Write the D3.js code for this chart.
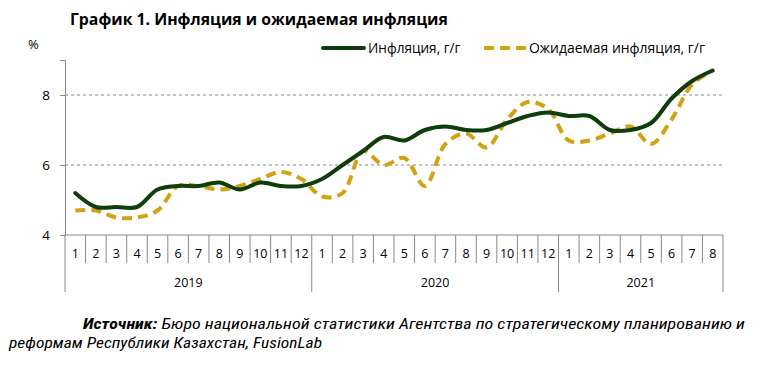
<!DOCTYPE html>
<html>
<head>
<meta charset="utf-8">
<script src="https://cdn.jsdelivr.net/npm/d3@7"></script>
<style>
  body { margin: 0; background: #fff; }
  svg { font-family: "Open Sans", "Noto Sans", sans-serif; }
</style>
</head>
<body>
<svg width="765" height="365"></svg>
<script>
// months per year group
let years = ["2019", "2020", "2021"];
let monthsPerYear = [12, 12, 8];
let inflation = [5.2, 4.8, 4.8, 4.8, 5.3, 5.4, 5.4, 5.5, 5.3, 5.5, 5.4, 5.4,
                 5.6, 6.0, 6.4, 6.8, 6.7, 7.0, 7.1, 7.0, 7.0, 7.2, 7.4, 7.5,
                 7.4, 7.4, 7.0, 7.0, 7.2, 7.9, 8.4, 8.7];
let expected = [4.7, 4.7, 4.5, 4.5, 4.7, 5.4, 5.4, 5.3, 5.4, 5.6, 5.8, 5.6,
                5.1, 5.2, 6.4, 6.0, 6.2, 5.4, 6.6, 6.9, 6.5, 7.3, 7.8, 7.6,
                6.7, 6.7, 6.9, 7.1, 6.6, 7.3, 8.3, 8.7];
let yTicks = [4, 6, 8];

let svg = d3.select("svg"),
    margin = {top: 60, right: 42, bottom: 130, left: 65},
    width = +svg.attr("width") - margin.left - margin.right,
    height = +svg.attr("height") - margin.top - margin.bottom;

let data = [];
years.forEach(function(yr, yi) {
  for (let m = 1; m <= monthsPerYear[yi]; m++) {
    data.push({key: yr + "-" + m, month: m, year: yr});
  }
});
data.forEach(function(d, i) {
  d.inf = inflation[i];
  d.exp = expected[i];
});

let g = svg.append("g")
  .attr("transform", "translate(" + margin.left + "," + margin.top + ")");

let x = d3.scaleBand()
  .domain(data.map(function(d) { return d.key; }))
  .range([0, width]);
let y = d3.scaleLinear()
  .domain([4, 9])
  .range([height, 0]);

// title
svg.append("text")
  .attr("x", 70).attr("y", 25)
  .style("font-size", "15.8px").style("font-weight", "bold")
  .text("График 1. Инфляция и ожидаемая инфляция");

svg.append("text")
  .attr("x", 28).attr("y", 49)
  .style("font-size", "13px")
  .text("%");

// gridlines
g.append("g")
  .selectAll("line")
  .data(yTicks.filter(function(t) { return t > 4; }))
  .enter().append("line")
    .attr("x1", 0).attr("x2", width)
    .attr("y1", function(d) { return y(d); })
    .attr("y2", function(d) { return y(d); })
    .attr("stroke", "#888").attr("stroke-dasharray", "3,3");

// y-axis
let yAxis = g.append("g")
  .call(d3.axisLeft(y).tickValues(yTicks).tickSize(5).tickPadding(10).tickFormat(d3.format("d")));
yAxis.select(".domain").attr("stroke", "#888");
yAxis.selectAll(".tick line").attr("stroke", "#888");
yAxis.selectAll(".tick text")
  .style("font-size", "13.5px").style("font-family", "'Open Sans', sans-serif").attr("fill", "#000");

// x-axis, two levels
let xa = g.append("g").attr("transform", "translate(0," + height + ")");
xa.append("line").attr("x1", 0).attr("x2", width).attr("stroke", "#888");
xa.selectAll(".mtick")
  .data(data)
  .enter().append("line")
    .attr("class", "mtick")
    .attr("x1", function(d) { return x(d.key); })
    .attr("x2", function(d) { return x(d.key); })
    .attr("y1", 0)
    .attr("y2", function(d) { return d.month === 1 ? 57 : 28; })
    .attr("stroke", "#888");
xa.append("line")
  .attr("x1", width).attr("x2", width).attr("y1", 0).attr("y2", 57)
  .attr("stroke", "#888");
xa.selectAll(".mlabel")
  .data(data)
  .enter().append("text")
    .attr("class", "mlabel")
    .attr("x", function(d) { return x(d.key) + x.bandwidth() / 2; })
    .attr("y", 23)
    .attr("text-anchor", "middle")
    .style("font-size", "12.5px")
    .text(function(d) { return d.month; });

let start = 0;
years.forEach(function(yr, yi) {
  let first = data[start], last = data[start + monthsPerYear[yi] - 1];
  xa.append("text")
    .attr("x", (x(first.key) + x(last.key) + x.bandwidth()) / 2)
    .attr("y", 52)
    .attr("text-anchor", "middle")
    .style("font-size", "12.5px")
    .text(yr);
  start += monthsPerYear[yi];
});

// lines
let cx = function(d) { return x(d.key) + x.bandwidth() / 2; };
let lineInf = d3.line().x(cx).y(function(d) { return y(d.inf); }).curve(d3.curveCatmullRom);
let lineExp = d3.line().x(cx).y(function(d) { return y(d.exp); }).curve(d3.curveCatmullRom);

g.append("path")
  .datum(data)
  .attr("fill", "none")
  .attr("stroke", "#d2a214")
  .attr("stroke-width", 4)
  .attr("stroke-dasharray", "10,6")
  .attr("d", lineExp);

g.append("path")
  .datum(data)
  .attr("fill", "none")
  .attr("stroke", "#0f3d0c")
  .attr("stroke-width", 4)
  .attr("stroke-linecap", "round")
  .attr("d", lineInf);

// legend
let legend = svg.append("g");
legend.append("line")
  .attr("x1", 323).attr("x2", 364).attr("y1", 48).attr("y2", 48)
  .attr("stroke", "#0f3d0c").attr("stroke-width", 4).attr("stroke-linecap", "round");
legend.append("text")
  .attr("x", 368).attr("y", 53).style("font-size", "13.6px")
  .text("Инфляция, г/г");
legend.append("line")
  .attr("x1", 484).attr("x2", 526).attr("y1", 48).attr("y2", 48)
  .attr("stroke", "#d2a214").attr("stroke-width", 4).attr("stroke-dasharray", "10,6");
legend.append("text")
  .attr("x", 529).attr("y", 53).style("font-size", "13.6px")
  .attr("textLength", 176).attr("lengthAdjust", "spacingAndGlyphs")
  .text("Ожидаемая инфляция, г/г");

// source note
let src = svg.append("text")
  .attr("x", 83).attr("y", 329)
  .attr("textLength", 662).attr("lengthAdjust", "spacingAndGlyphs")
  .style("font-family", "'Liberation Sans Narrow', 'Roboto Condensed', sans-serif")
  .style("font-style", "italic").style("font-size", "15px");
src.append("tspan").style("font-weight", "bold").text("Источник:");
src.append("tspan").text(" Бюро национальной статистики Агентства по стратегическому планированию и");
svg.append("text")
  .attr("x", 9).attr("y", 348)
  .attr("textLength", 313).attr("lengthAdjust", "spacingAndGlyphs")
  .style("font-family", "'Liberation Sans Narrow', 'Roboto Condensed', sans-serif")
  .style("font-style", "italic").style("font-size", "15px")
  .text("реформам Республики Казахстан, FusionLab");
</script>
</body>
</html>
